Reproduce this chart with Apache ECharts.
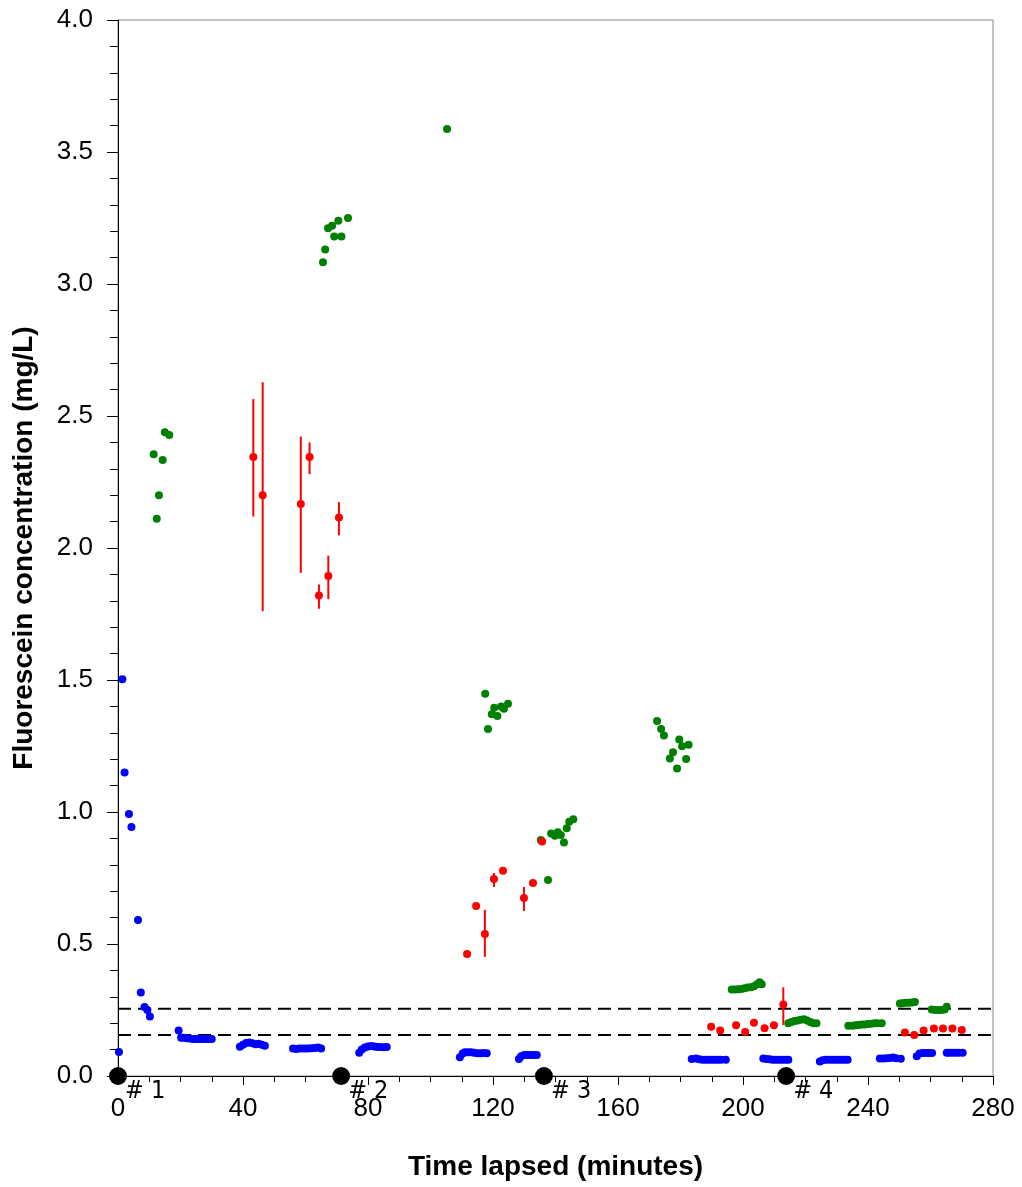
<!DOCTYPE html>
<html>
<head>
<meta charset="utf-8">
<script src="https://cdn.jsdelivr.net/npm/echarts@6/dist/echarts.min.js"></script>
<style>
html,body{margin:0;padding:0;background:#fff;}
#chart{width:1022px;height:1187px;}
</style>
</head>
<body>
<div id="chart"></div>
<script>
// ---- Data ----
const blueX = [0.3, 1.4, 2.1, 3.5, 4.3, 6.4, 7.3, 8.5, 9.4, 10.2,
  19.4, 20.2, 21, 22, 23, 24, 25, 26, 27, 28, 29, 30,
  39, 40, 41, 42, 43, 44, 45, 46, 47,
  56, 57, 58, 59, 60, 61, 62, 63, 64, 65,
  77.2, 78, 79, 80, 81, 82, 83, 84, 85, 86,
  109.4, 110.3, 111, 112, 113, 114, 115, 116, 117, 118,
  128.3, 129, 130, 131, 132, 133, 134,
  183.6, 185, 186, 187, 188, 189, 190, 191, 192, 193, 194.5,
  206.5, 207.5, 208.5, 209.5, 210.5, 211.5, 212.5, 213.5, 214.5,
  224.6, 225.5, 226.5, 227.5, 228.5, 229.5, 230.5, 231.5, 232.5, 233.5,
  243.8, 245, 246, 247, 248, 249, 250.5,
  255.6, 256.5, 257.5, 258.5, 259.5, 260.5,
  265.2, 266, 267, 268, 269, 270.3];
const blueY = [0.091, 1.503, 1.150, 0.992, 0.943, 0.591, 0.316, 0.261, 0.250, 0.225,
  0.172, 0.145, 0.145, 0.143, 0.142, 0.140, 0.140, 0.140, 0.140, 0.140, 0.140, 0.140,
  0.111, 0.118, 0.125, 0.127, 0.124, 0.120, 0.122, 0.118, 0.115,
  0.104, 0.102, 0.104, 0.104, 0.104, 0.104, 0.105, 0.106, 0.108, 0.104,
  0.088, 0.100, 0.108, 0.112, 0.114, 0.112, 0.110, 0.110, 0.109, 0.110,
  0.071, 0.085, 0.090, 0.090, 0.090, 0.088, 0.086, 0.086, 0.087, 0.086,
  0.064, 0.075, 0.080, 0.080, 0.080, 0.080, 0.080,
  0.064, 0.066, 0.063, 0.062, 0.062, 0.062, 0.062, 0.062, 0.062, 0.062, 0.062,
  0.066, 0.064, 0.063, 0.062, 0.062, 0.062, 0.062, 0.062, 0.062,
  0.055, 0.060, 0.062, 0.062, 0.062, 0.062, 0.062, 0.062, 0.062, 0.062,
  0.066, 0.066, 0.067, 0.068, 0.070, 0.067, 0.065,
  0.075, 0.085, 0.087, 0.087, 0.087, 0.087,
  0.088, 0.088, 0.088, 0.088, 0.088, 0.088];

const greenX = [11.4, 12.4, 13.1, 14.3, 15.0, 16.4,
  65.6, 66.3, 67.2, 68.5, 69.2, 70.5, 71.5, 73.6,
  105.3,
  117.5, 118.4, 119.6, 120.4, 121.4, 122.6, 123.5, 124.8,
  135.3, 137.6, 138.6, 139.8, 140.7, 141.7, 142.7, 143.6, 144.4, 145.7,
  172.5, 173.8, 174.7, 176.6, 177.6, 178.9, 179.6, 180.5, 181.8, 182.6,
  196.4, 197.5, 198.5, 199.5, 200.5, 201.5, 202.5, 203.5, 204.5, 205.3, 206,
  214.5, 215.5, 216.5, 217.5, 218.5, 219.5, 220.5, 221.5, 222.5, 223.5,
  233.7, 235, 236, 237, 238, 239, 240, 241, 242, 243, 244.4,
  250.2, 251, 252, 253, 254, 255,
  260.4, 261.5, 262.5, 263.5, 264.5, 265.2];
const greenY = [2.355, 2.111, 2.200, 2.333, 2.438, 2.428,
  3.082, 3.131, 3.211, 3.221, 3.180, 3.240, 3.180, 3.250,
  3.587,
  1.448, 1.314, 1.370, 1.395, 1.364, 1.400, 1.391, 1.410,
  0.894, 0.742, 0.919, 0.910, 0.923, 0.913, 0.884, 0.938, 0.963, 0.973,
  1.345, 1.314, 1.290, 1.203, 1.226, 1.165, 1.275, 1.249, 1.201, 1.255,
  0.328, 0.328, 0.329, 0.330, 0.332, 0.335, 0.336, 0.340, 0.348, 0.355, 0.348,
  0.200, 0.205, 0.208, 0.210, 0.213, 0.215, 0.210, 0.205, 0.200, 0.200,
  0.190, 0.190, 0.192, 0.193, 0.195, 0.195, 0.197, 0.198, 0.200, 0.200, 0.200,
  0.275, 0.276, 0.277, 0.277, 0.278, 0.280,
  0.252, 0.250, 0.250, 0.250, 0.252, 0.262];

const redX = [43.3, 46.3, 58.5, 61.3, 64.3, 67.3, 70.7,
  111.7, 114.6, 117.4, 120.3, 123.2, 129.9, 132.8, 135.7,
  189.8, 192.7, 197.8, 200.7, 203.5, 206.9, 209.9, 212.9,
  251.8, 254.8, 257.8, 261.1, 264.0, 267.0, 270.0];
const redY = [2.345, 2.200, 2.167, 2.345, 1.820, 1.894, 2.116,
  0.462, 0.644, 0.538, 0.746, 0.777, 0.674, 0.731, 0.888,
  0.187, 0.172, 0.192, 0.167, 0.202, 0.181, 0.192, 0.271,
  0.165, 0.155, 0.172, 0.180, 0.180, 0.180, 0.174];
const redLo = [2.119, 1.761, 1.906, 2.280, 1.770, 1.806, 2.048,
  null, null, 0.451, 0.716, null, 0.625, null, null,
  null, null, null, null, null, null, null, 0.193,
  null, null, null, null, null, null, null];
const redHi = [2.564, 2.628, 2.422, 2.400, 1.862, 1.971, 2.174,
  null, null, 0.629, 0.769, null, 0.716, null, null,
  null, null, null, null, null, null, null, 0.336,
  null, null, null, null, null, null, null];

const thresholds = [0.255, 0.155];
const markerX = [0, 71.4, 136.3, 213.8];
const markerLabels = ['# 1', '# 2', '# 3', '# 4'];

const xTickLabels = ['0', '40', '80', '120', '160', '200', '240', '280'];
const yTickLabels = ['0.0', '0.5', '1.0', '1.5', '2.0', '2.5', '3.0', '3.5', '4.0'];

// ---- Build series ----
const zip = (xs, ys) => xs.map((x, i) => [x, ys[i]]);
const errData = [];
redX.forEach((x, i) => { if (redLo[i] != null) errData.push([x, redLo[i], redHi[i]]); });

const FONT = 'Liberation Sans, Arial, sans-serif';

const chart = echarts.init(document.getElementById('chart'), null, {renderer: 'canvas'});
chart.setOption({
  animation: false,
  backgroundColor: '#ffffff',
  grid: {left: 118, right: 29, top: 20, bottom: 111, show: true, borderColor: '#888888', borderWidth: 1, containLabel: false},
  xAxis: {
    type: 'value', min: 0, max: 280, interval: 40,
    name: 'Time lapsed (minutes)', nameLocation: 'middle', nameGap: 77,
    nameTextStyle: {fontFamily: FONT, fontWeight: 'bold', fontSize: 28, color: '#000'},
    axisLine: {show: true, onZero: false, lineStyle: {color: '#000', width: 1}},
    axisTick: {show: true, inside: false, length: 9, lineStyle: {color: '#000'}},
    minorTick: {show: true, splitNumber: 4, length: 6, lineStyle: {color: '#000'}},
    splitLine: {show: false},
    axisLabel: {margin: 20, fontFamily: FONT, fontSize: 26, color: '#000',
      formatter: (v) => xTickLabels[Math.round(v / 40)]}
  },
  yAxis: {
    type: 'value', min: 0, max: 4, interval: 0.5,
    name: 'Fluorescein concentration (mg/L)', nameLocation: 'middle', nameGap: 80, nameRotate: 90,
    nameTextStyle: {fontFamily: FONT, fontWeight: 'bold', fontSize: 28, color: '#000'},
    axisLine: {show: true, onZero: false, lineStyle: {color: '#000', width: 1}},
    axisTick: {show: true, inside: false, length: 11, lineStyle: {color: '#000'}},
    minorTick: {show: true, splitNumber: 5, length: 8, lineStyle: {color: '#000'}},
    splitLine: {show: false},
    axisLabel: {margin: 25, fontFamily: FONT, fontSize: 26, color: '#000',
      formatter: (v) => yTickLabels[Math.round(v / 0.5)]}
  },
  series: [
    ...thresholds.map((t) => ({
      type: 'line', data: [[0, t], [280, t]], symbol: 'none', silent: true,
      lineStyle: {color: '#000', width: 2, type: [13, 7]}, z: 1
    })),
    {type: 'scatter', data: zip(blueX, blueY), symbolSize: 8, itemStyle: {color: '#0000ff', opacity: 1}, z: 3},
    {type: 'scatter', data: zip(greenX, greenY), symbolSize: 8, itemStyle: {color: '#008000', opacity: 1}, z: 3},
    {type: 'custom', data: errData, z: 4,
      renderItem: (params, api) => {
        const x = api.value(0);
        const p1 = api.coord([x, api.value(1)]);
        const p2 = api.coord([x, api.value(2)]);
        return {type: 'line', shape: {x1: p1[0], y1: p1[1], x2: p2[0], y2: p2[1]},
          style: {stroke: '#ff0000', lineWidth: 2}};
      }},
    {type: 'scatter', data: zip(redX, redY), symbolSize: 8, itemStyle: {color: '#ff0000', opacity: 1}, z: 5},
    {type: 'scatter', clip: false, z: 6,
      data: markerX.map((x, i) => ({value: [x, 0], name: markerLabels[i]})),
      symbolSize: 18, itemStyle: {color: '#000000', opacity: 1},
      label: {show: true, formatter: (p) => p.name, position: [16, 12], align: 'left', verticalAlign: 'top',
        fontFamily: 'Liberation Sans Narrow, DejaVu Sans Condensed, Arial Narrow, sans-serif', fontSize: 25, color: '#000'}}
  ]
});
</script>
</body>
</html>
